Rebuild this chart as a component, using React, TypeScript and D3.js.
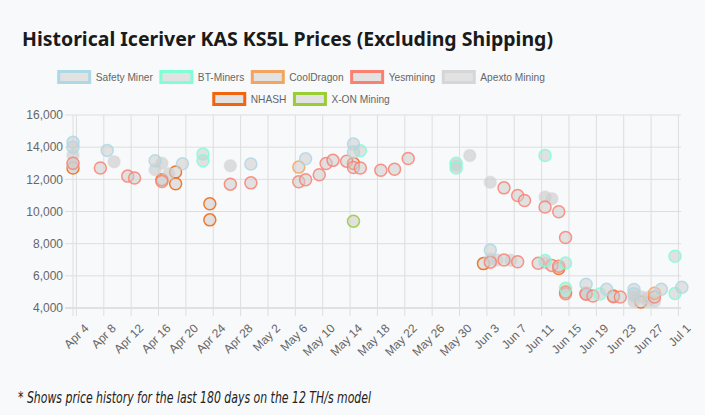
import React, { useMemo } from 'react';
import * as d3 from 'd3';

const chartTitle = 'Historical Iceriver KAS KS5L Prices (Excluding Shipping)';
const footnote = '* Shows price history for the last 180 days on the 12 TH/s model';

const seriesNames = ['Safety Miner', 'BT-Miners', 'CoolDragon', 'Yesmining', 'Apexto Mining', 'NHASH', 'X-ON Mining'];
const seriesColors = ['#add8e6', '#7fffd4', '#f4a460', '#fa8072', '#d6d6d6', '#f0650e', '#9acd32'];

const safetyMiner: [string, number][] = [
  ['2024-04-03', 14300], ['2024-04-03', 14000], ['2024-04-08', 13800], ['2024-04-15', 13150],
  ['2024-04-19', 12970], ['2024-04-29', 12950], ['2024-05-07', 13280], ['2024-05-14', 14200],
  ['2024-05-14', 13700], ['2024-06-03', 7600], ['2024-06-17', 5480], ['2024-06-20', 5160],
  ['2024-06-24', 5150], ['2024-06-24', 4880], ['2024-06-28', 5160], ['2024-07-01', 5290],
];
const btMiners: [string, number][] = [
  ['2024-04-22', 13580], ['2024-04-22', 13150], ['2024-05-15', 13780], ['2024-05-29', 13000],
  ['2024-05-29', 12700], ['2024-06-11', 13480], ['2024-06-11', 6950], ['2024-06-14', 6800],
  ['2024-06-14', 5230], ['2024-06-19', 4870], ['2024-06-30', 7220], ['2024-06-30', 4900],
];
const coolDragon: [string, number][] = [
  ['2024-05-06', 12760], ['2024-06-27', 4920],
];
const yesmining: [string, number][] = [
  ['2024-04-03', 13000], ['2024-04-07', 12700], ['2024-04-11', 12200], ['2024-04-12', 12080],
  ['2024-04-16', 11860], ['2024-04-26', 11700], ['2024-04-29', 11780], ['2024-05-06', 11850],
  ['2024-05-07', 11970], ['2024-05-09', 12280], ['2024-05-10', 12980], ['2024-05-11', 13180],
  ['2024-05-13', 13130], ['2024-05-14', 12740], ['2024-05-15', 12700], ['2024-05-18', 12570],
  ['2024-05-20', 12630], ['2024-05-22', 13300], ['2024-06-03', 6850], ['2024-06-05', 11470],
  ['2024-06-05', 6980], ['2024-06-07', 10990], ['2024-06-07', 6880], ['2024-06-08', 10680],
  ['2024-06-10', 6780], ['2024-06-11', 10280], ['2024-06-12', 6650], ['2024-06-13', 9980],
  ['2024-06-13', 6600], ['2024-06-14', 8380], ['2024-06-14', 4880], ['2024-06-17', 4850],
  ['2024-06-18', 4750], ['2024-06-21', 4700], ['2024-06-22', 4680], ['2024-06-27', 4680],
];
const apextoMining: [string, number][] = [
  ['2024-04-03', 13500], ['2024-04-03', 12900], ['2024-04-09', 13100], ['2024-04-15', 12600],
  ['2024-04-16', 13000], ['2024-04-17', 12350], ['2024-04-26', 12850], ['2024-05-29', 12850],
  ['2024-05-31', 13480], ['2024-06-03', 11820], ['2024-06-03', 7050], ['2024-06-04', 6990],
  ['2024-06-06', 6970], ['2024-06-11', 10900], ['2024-06-12', 10800], ['2024-06-11', 6800],
  ['2024-06-17', 4950], ['2024-06-24', 4400], ['2024-06-24', 4700], ['2024-06-25', 4700],
  ['2024-06-26', 4400], ['2024-06-26', 4650], ['2024-06-27', 4400],
];
const nhash: [string, number][] = [
  ['2024-04-03', 12700], ['2024-04-16', 11980], ['2024-04-18', 12450], ['2024-04-18', 11720],
  ['2024-04-23', 10480], ['2024-04-23', 9480], ['2024-05-14', 12990], ['2024-06-02', 6760],
  ['2024-06-13', 6450], ['2024-06-14', 5000], ['2024-06-17', 4900], ['2024-06-21', 4750],
  ['2024-06-25', 4370],
];
const xonMining: [string, number][] = [
  ['2024-05-14', 9400],
];

const seriesData = [safetyMiner, btMiners, coolDragon, yesmining, apextoMining, nhash, xonMining];

const yTickValues = [4000, 6000, 8000, 10000, 12000, 14000, 16000];
const xDomainStart = '2024-04-03T12:00';
const xDomainEnd = '2024-07-01T09:00';
const xFirstTick = '2024-04-04';
const xTickStepDays = 4;

const W = 705, H = 415;
const L = 73, R = 681, T = 115, B = 308;
const FONT = '"Liberation Sans", Arial, Helvetica, sans-serif';

function parseDay(s: string): Date {
  const [y, m, d] = s.split('-').map(Number);
  return new Date(y, m - 1, d, 12);
}

export default function App() {
  const x = d3.scaleTime().domain([new Date(xDomainStart), new Date(xDomainEnd)]).range([L, R]);
  const y = d3.scaleLinear().domain([4000, 16000]).range([B, T]);
  const xTicks = d3.timeDay.range(new Date(xFirstTick + 'T00:00'), new Date(xDomainEnd), xTickStepDays);
  const fmtX = d3.timeFormat('%b %-d');
  const fmtY = d3.format(',');

  const legendFontSize = 10.2;
  const legend = useMemo(() => {
    const c = document.createElement('canvas').getContext('2d')!;
    c.font = `${legendFontSize}px "Liberation Sans", Arial, sans-serif`;
    const boxW = 34, textGap = 4.5, itemGap = 6.5;
    const widths = seriesNames.map(n => boxW + textGap + c.measureText(n).width);
    const rows = [[0, 1, 2, 3, 4], [5, 6]];
    const rowY = [77, 99];
    const center = 301;
    const items: { i: number; x: number; y: number }[] = [];
    rows.forEach((row, ri) => {
      const total = row.reduce((a, i) => a + widths[i], 0) + itemGap * (row.length - 1);
      let cx = center - total / 2;
      row.forEach(i => {
        items.push({ i, x: cx, y: rowY[ri] });
        cx += widths[i] + itemGap;
      });
    });
    return { items, boxW, textGap };
  }, []);

  const order = seriesNames.map((_, i) => i).reverse();

  return (
    <svg width={W} height={H} style={{ position: 'absolute', left: 0, top: 0, display: 'block' }}>
      <rect x={0} y={0} width={W} height={H} fill="#f8f9fb" />
      <text x={22} y={46} fontFamily='"Noto Sans", "Open Sans", sans-serif' fontWeight={700} fontSize={19.2} fill="#1a1a1a"
        textLength={531} lengthAdjust="spacingAndGlyphs">
        {chartTitle}
      </text>

      {legend.items.map(({ i, x: lx, y: ly }) => (
        <g key={i}>
          <rect x={lx + 1.5} y={ly - 5.5} width={legend.boxW - 3} height={11} fill="#e2e2e2" stroke={seriesColors[i]} strokeWidth={3} />
          <text x={lx + legend.boxW + legend.textGap} y={ly} dy="0.35em" fontFamily={FONT} fontSize={legendFontSize} fill="#666">
            {seriesNames[i]}
          </text>
        </g>
      ))}

      {yTickValues.map(v => (
        <g key={v}>
          <line x1={L - 8} x2={R} y1={y(v)} y2={y(v)} stroke={v === 4000 ? '#c9c9c9' : '#dedede'} strokeWidth={1} />
          <text x={L - 10} y={y(v)} dy="0.35em" textAnchor="end" fontFamily={FONT} fontSize={12} fill="#666">
            {fmtY(v)}
          </text>
        </g>
      ))}
      {xTicks.map(t => (
        <g key={+t}>
          <line x1={x(t)} x2={x(t)} y1={T} y2={B + 8} stroke="#dedede" strokeWidth={1} />
          <text
            transform={`translate(${x(t) + 10},${B + 18}) rotate(-45)`}
            textAnchor="end"
            dy="0.35em"
            fontFamily={FONT}
            fontSize={12}
            fill="#666"
          >
            {fmtX(t)}
          </text>
        </g>
      ))}
      <line x1={L} x2={L} y1={T} y2={B + 8} stroke="#dedede" />

      {order.map(si => (
        <g key={si}>
          {seriesData[si].map(([d, v], k) => (
            <circle
              key={k}
              cx={x(parseDay(d))}
              cy={y(v)}
              r={6}
              fill={si === 4 ? 'rgba(205,205,205,0.65)' : 'rgba(205,205,205,0.55)'}
              stroke={seriesColors[si]}
              strokeOpacity={si === 4 ? 0.5 : 0.85}
              strokeWidth={1.5}
            />
          ))}
        </g>
      ))}

      <text x={18} y={403} fontFamily='"Liberation Sans Narrow", "DejaVu Sans Condensed", "Liberation Sans", sans-serif'
        fontStyle="italic" fontSize={15.5} fill="#222" textLength={353} lengthAdjust="spacingAndGlyphs">
        {footnote}
      </text>
    </svg>
  );
}
